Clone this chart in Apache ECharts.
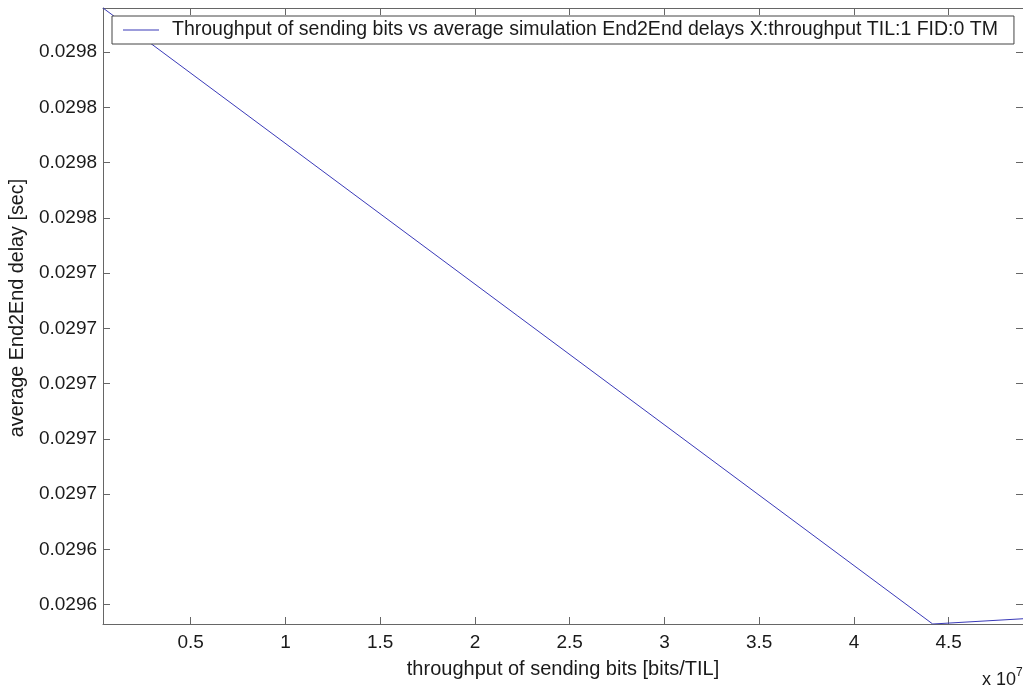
<!DOCTYPE html>
<html>
<head>
<meta charset="utf-8">
<title>Throughput vs End2End delay</title>
<script src="https://cdn.jsdelivr.net/npm/echarts@6/dist/echarts.min.js"></script>
<style>
  html, body { margin: 0; padding: 0; background: #fff; }
  #chart { width: 1023px; height: 687px; }
</style>
</head>
<body>
<div id="chart"></div>
<script>
// Throughput of sending bits [bits/TIL] and average End2End delay [sec]
const throughputBits = [372000, 44155000, 48920000];
const avgDelaySec = [0.029836, 0.029613, 0.0296149];

// Axis extents (tight to the data) and tick positions
const xRange = [372000, 48920000];
const yRange = [0.029613, 0.029836];
const xTicks = [5e6, 1e7, 1.5e7, 2e7, 2.5e7, 3e7, 3.5e7, 4e7, 4.5e7];
const xTickLabels = ['0.5', '1', '1.5', '2', '2.5', '3', '3.5', '4', '4.5'];
const yTicks = [0.02962, 0.02964, 0.02966, 0.02968, 0.02970, 0.02972, 0.02974, 0.02976, 0.02978, 0.02980, 0.02982];
const yTickLabels = ['0.0296', '0.0296', '0.0297', '0.0297', '0.0297', '0.0297', '0.0297', '0.0298', '0.0298', '0.0298', '0.0298'];

const seriesName = 'Throughput of sending bits vs average simulation End2End delays X:throughput TIL:1 FID:0 TM';

const FONT = '"Liberation Sans", Arial, Helvetica, sans-serif';
const AXIS_COLOR = '#666';
const TEXT_COLOR = '#1a1a1a';

const points = throughputBits.map((x, i) => [x, avgDelaySec[i]]);

function labelFor(ticks, labels) {
  return v => {
    let best = 0;
    for (let i = 1; i < ticks.length; i++) {
      if (Math.abs(ticks[i] - v) < Math.abs(ticks[best] - v)) best = i;
    }
    return labels[best];
  };
}

const boxAxisCommon = {
  type: 'value',
  axisLine: { show: true, onZero: false, lineStyle: { color: AXIS_COLOR, width: 1 } },
  axisTick: { show: true, inside: true, length: 7, lineStyle: { color: AXIS_COLOR } },
  splitLine: { show: false }
};

const chart = echarts.init(document.getElementById('chart'), null, { renderer: 'canvas' });

chart.setOption({
  animation: false,
  backgroundColor: '#fff',
  grid: { left: 103, right: 0, top: 8, bottom: 63, containLabel: false },
  legend: {
    left: 112,
    top: 16,
    orient: 'horizontal',
    padding: [4, 16, 4, 11],
    itemWidth: 36,
    itemHeight: 12,
    borderColor: '#444',
    borderWidth: 1,
    backgroundColor: '#fff',
    selectedMode: false,
    textStyle: { fontFamily: FONT, fontSize: 19.5, color: TEXT_COLOR, padding: [0, 0, 0, 8] },
    data: [{ name: seriesName, icon: 'path://M0,0 L36,0 L36,1 L0,1 Z' }]
  },
  xAxis: [
    Object.assign({}, boxAxisCommon, {
      position: 'bottom',
      min: xRange[0], max: xRange[1],
      name: 'throughput of sending bits [bits/TIL]',
      nameLocation: 'middle',
      nameGap: 35,
      nameTextStyle: { fontFamily: FONT, fontSize: 20, color: TEXT_COLOR },
      axisTick: Object.assign({}, boxAxisCommon.axisTick, { customValues: xTicks }),
      axisLabel: {
        customValues: xTicks,
        formatter: labelFor(xTicks, xTickLabels),
        margin: 9,
        fontFamily: FONT, fontSize: 19, color: TEXT_COLOR
      }
    }),
    Object.assign({}, boxAxisCommon, {
      position: 'top',
      min: xRange[0], max: xRange[1],
      axisTick: Object.assign({}, boxAxisCommon.axisTick, { customValues: xTicks }),
      axisLabel: { show: false }
    })
  ],
  yAxis: [
    Object.assign({}, boxAxisCommon, {
      position: 'left',
      min: yRange[0], max: yRange[1],
      name: 'average End2End delay [sec]',
      nameLocation: 'middle',
      nameGap: 75,
      nameTextStyle: { fontFamily: FONT, fontSize: 19.8, color: TEXT_COLOR, padding: [0, 0, 0, 16] },
      axisTick: Object.assign({}, boxAxisCommon.axisTick, { customValues: yTicks }),
      axisLabel: {
        customValues: yTicks,
        formatter: labelFor(yTicks, yTickLabels),
        margin: 6,
        fontFamily: FONT, fontSize: 19, color: TEXT_COLOR
      }
    }),
    Object.assign({}, boxAxisCommon, {
      position: 'right',
      min: yRange[0], max: yRange[1],
      axisTick: Object.assign({}, boxAxisCommon.axisTick, { customValues: yTicks }),
      axisLabel: { show: false }
    })
  ],
  series: [{
    name: seriesName,
    type: 'line',
    xAxisIndex: 0,
    yAxisIndex: 0,
    data: points,
    symbol: 'none',
    clip: true,
    lineStyle: { color: '#3a3ab8', width: 1 },
    itemStyle: { color: '#3a3ab8' }
  }],
  graphic: [{
    type: 'text',
    left: 982,
    top: 667,
    style: {
      text: '{b|x 10}{s|7}',
      rich: {
        b: { fontFamily: FONT, fontSize: 18, fill: TEXT_COLOR, verticalAlign: 'bottom' },
        s: { fontFamily: FONT, fontSize: 12, fill: TEXT_COLOR, verticalAlign: 'top', padding: [0, 0, 10, 0] }
      }
    }
  }]
});
</script>
</body>
</html>
